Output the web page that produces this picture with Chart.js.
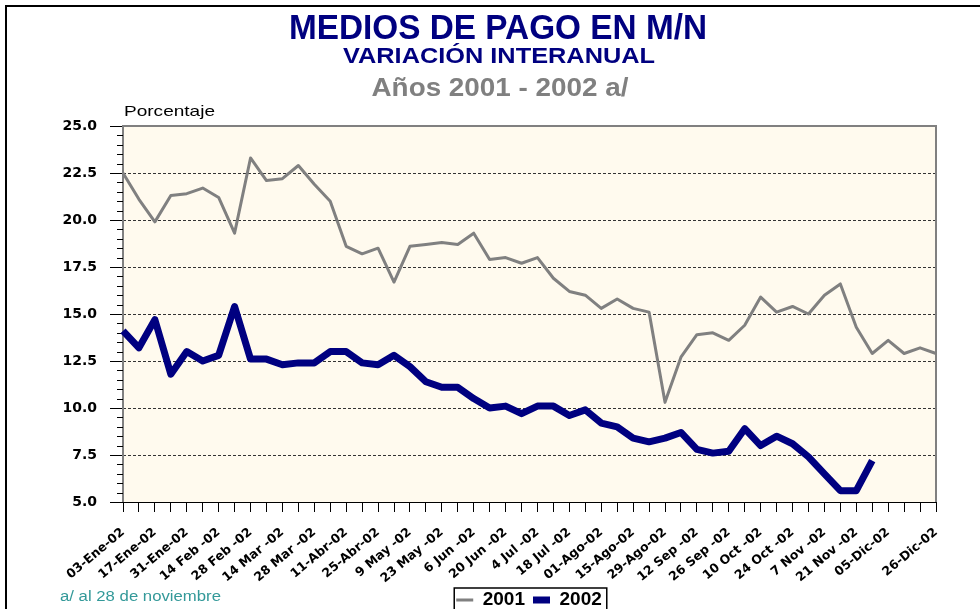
<!DOCTYPE html>
<html>
<head>
<meta charset="utf-8">
<script src="https://cdn.jsdelivr.net/npm/chart.js@4.4.0/dist/chart.umd.min.js"></script>
<style>
html,body{margin:0;padding:0;background:#fff;overflow:hidden}
canvas{display:block}
</style>
</head>
<body>
<canvas id="c" width="980" height="609"></canvas>
<script>
// ---- data ----
const categories = [
  '03-Ene-02','10-Ene-02','17-Ene-02','24-Ene-02','31-Ene-02','07 Feb -02','14 Feb -02','21 Feb -02',
  '28 Feb -02','07 Mar -02','14 Mar -02','21 Mar -02','28 Mar -02','04-Abr-02','11-Abr-02','18-Abr-02',
  '25-Abr-02','2 May -02','9 May -02','16 May -02','23 May -02','30 May -02','6 Jun -02','13 Jun -02',
  '20 Jun -02','27 Jun -02','4 Jul -02','11 Jul -02','18 Jul -02','25 Jul -02','01-Ago-02','08-Ago-02',
  '15-Ago-02','22-Ago-02','29-Ago-02','5 Sep -02','12 Sep -02','19 Sep -02','26 Sep -02','3 Oct -02',
  '10 Oct -02','17 Oct -02','24 Oct -02','31 Oct -02','7 Nov -02','14 Nov -02','21 Nov -02','28 Nov -02',
  '05-Dic-02','12-Dic-02','19-Dic-02','26-Dic-02'
];
const xTickLabels = [
  '03-Ene-02','17-Ene-02','31-Ene-02','14 Feb -02','28 Feb -02','14 Mar -02','28 Mar -02','11-Abr-02',
  '25-Abr-02','9 May -02','23 May -02','6 Jun -02','20 Jun -02','4 Jul -02','18 Jul -02','01-Ago-02',
  '15-Ago-02','29-Ago-02','12 Sep -02','26 Sep -02','10 Oct -02','24 Oct -02','7 Nov -02','21 Nov -02',
  '05-Dic-02','26-Dic-02'
];
const yTickLabels = ['5.0','7.5','10.0','12.5','15.0','17.5','20.0','22.5','25.0'];
const series2001 = [
  22.5,21.1,19.9,21.3,21.4,21.7,21.2,19.3,23.3,22.1,22.2,22.9,21.9,21.0,18.6,18.2,
  18.5,16.7,18.6,18.7,18.8,18.7,19.3,17.9,18.0,17.7,18.0,16.9,16.2,16.0,15.3,15.8,
  15.3,15.1,10.3,12.7,13.9,14.0,13.6,14.4,15.9,15.1,15.4,15.0,16.0,16.6,14.3,12.9,
  13.6,12.9,13.2,12.9
];
const series2002 = [
  14.1,13.2,14.7,11.8,13.0,12.5,12.8,15.4,12.6,12.6,12.3,12.4,12.4,13.0,13.0,12.4,
  12.3,12.8,12.2,11.4,11.1,11.1,10.5,10.0,10.1,9.7,10.1,10.1,9.6,9.9,9.2,9.0,
  8.4,8.2,8.4,8.7,7.8,7.6,7.7,8.9,8.0,8.5,8.1,7.4,6.5,5.6,5.6,7.2,
  null,null,null,null
];
const seriesNames = ['2001','2002'];
const titleLines = ['MEDIOS DE PAGO EN M/N','VARIACIÓN INTERANUAL','Años 2001 - 2002 a/'];
const yAxisTitle = 'Porcentaje';
const footnote = 'a/ al 28 de noviembre';

// ---- helpers ----
function fitText(ctx, text, font, color, x, baseline, width, align) {
  ctx.save();
  ctx.font = font;
  const w = ctx.measureText(text).width;
  ctx.translate(x, baseline);
  ctx.scale(width / w, 1);
  ctx.textAlign = align || 'center';
  ctx.textBaseline = 'alphabetic';
  ctx.fillStyle = color;
  ctx.fillText(text, 0, 0);
  ctx.restore();
}

const LEGEND_CX = 533, LEGEND_CY = 600, LEGEND_H = 40;

const deco = {
  id: 'deco',
  beforeDraw(chart) {
    const {ctx, chartArea: a} = chart;
    ctx.save();
    ctx.fillStyle = '#ffffff';
    ctx.fillRect(0, 0, chart.width, chart.height);
    ctx.fillStyle = '#FFFAEE';
    ctx.fillRect(a.left, a.top, a.right - a.left, a.bottom - a.top);
    ctx.fillStyle = '#000';
    ctx.fillRect(5, 5, chart.width, 2);
    ctx.fillRect(5, 5, 2, chart.height);
    ctx.restore();
  },
  afterLayout(chart) {
    const lg = chart.legend;
    if (!lg) return;
    const pad = lg.options.labels.padding;
    const curCx = (lg.left + lg.right + pad) / 2;
    const dx = LEGEND_CX - curCx;
    const fs = lg.options.labels.font.size;
    lg.left += dx; lg.right += dx;
    lg.top = LEGEND_CY - pad - fs / 2;
    lg.bottom = lg.top + LEGEND_H;
    lg.height = LEGEND_H;
  },
  beforeDatasetsDraw(chart) {
    const {ctx, chartArea: a} = chart;
    const y = chart.scales.y;
    ctx.save();
    ctx.strokeStyle = '#808080';
    ctx.lineWidth = 2;
    ctx.beginPath();
    ctx.moveTo(a.left, a.bottom);
    ctx.lineTo(a.left, a.top);
    ctx.lineTo(a.right, a.top);
    ctx.lineTo(a.right, a.bottom);
    ctx.stroke();
    ctx.strokeStyle = '#000';
    ctx.lineWidth = 1;
    ctx.beginPath();
    for (let v = y.min + 0.5; v < y.max - 1e-6; v += 0.5) {
      if (Math.abs(v / 2.5 - Math.round(v / 2.5)) < 1e-6) continue;
      const p = Math.round(y.getPixelForValue(v)) + 0.5;
      ctx.moveTo(a.left - 6, p);
      ctx.lineTo(a.left, p);
    }
    ctx.stroke();
    ctx.restore();
  },
  afterDraw(chart) {
    const {ctx, chartArea: a} = chart;
    fitText(ctx, titleLines[0], 'bold 35px "Liberation Sans", Arial, sans-serif', '#000080', 498, 39, 418);
    fitText(ctx, titleLines[1], 'bold 22px "Liberation Sans", Arial, sans-serif', '#000080', 499, 63, 312);
    fitText(ctx, titleLines[2], 'bold 26px "Liberation Sans", Arial, sans-serif', '#808080', 500, 96, 257);
    fitText(ctx, yAxisTitle, '15px "Liberation Sans", Arial, sans-serif', '#000', a.left + 1, 116, 91, 'left');
    fitText(ctx, footnote, '14px "Liberation Sans", Arial, sans-serif', '#339999', 60, 601, 161, 'left');
    const lg = chart.legend;
    if (lg && lg.lineWidths) {
      const pad = lg.options.labels.padding;
      const rowW = lg.lineWidths[0];
      const start = (lg.left + pad + lg.right - rowW) / 2;
      ctx.save();
      ctx.strokeStyle = '#000';
      ctx.lineWidth = 1.5;
      ctx.strokeRect(start - 2, 588, rowW - pad + 7, 30);
      ctx.restore();
    }
  }
};

new Chart(document.getElementById('c'), {
  type: 'line',
  data: {
    labels: categories,
    datasets: [
      {label: seriesNames[0], data: series2001, borderColor: '#808080', backgroundColor: '#808080',
       borderWidth: 3, pointRadius: 0, tension: 0, fill: false, borderJoinStyle: 'round'},
      {label: seriesNames[1], data: series2002, borderColor: '#000080', backgroundColor: '#000080',
       borderWidth: 7, pointRadius: 0, tension: 0, fill: false, borderJoinStyle: 'round'}
    ]
  },
  options: {
    responsive: false,
    devicePixelRatio: 1,
    animation: false,
    layout: {padding: {top: 126, right: 44, left: 0, bottom: 0}},
    plugins: {
      title: {display: false},
      tooltip: {enabled: false},
      legend: {
        display: true,
        position: 'bottom',
        maxHeight: 1,
        labels: {
          usePointStyle: true,
          pointStyle: 'line',
          pointStyleWidth: 17,
          padding: 8,
          color: '#000',
          font: {family: '"Liberation Sans", Arial, sans-serif', size: 19, weight: 'bold'}
        }
      }
    },
    scales: {
      x: {
        afterFit(s) {
          const lg = s.chart.legend;
          const lh = lg ? lg.height : 0;
          s.height = s.chart.height - 502 - lh;
        },
        grid: {drawOnChartArea: false, tickLength: 10, tickColor: '#000', color: '#000'},
        border: {display: true, color: '#000', width: 1},
        ticks: {
          autoSkip: false,
          maxRotation: 40,
          minRotation: 40,
          padding: 13,
          color: '#000',
          font: {family: '"DejaVu Sans", Verdana, sans-serif', size: 12.5, weight: 'bold'},
          callback(v, i) { const c = categories[i]; return xTickLabels.includes(c) ? c : ''; }
        }
      },
      y: {
        min: parseFloat(yTickLabels[0]),
        max: parseFloat(yTickLabels[yTickLabels.length - 1]),
        afterFit(s) { s.width = 123; },
        afterBuildTicks(s) { s.ticks = yTickLabels.map(t => ({value: parseFloat(t)})); },
        grid: {
          color(c) {
            const v = c.tick ? c.tick.value : null;
            return (v === 5 || v === 25) ? 'rgba(0,0,0,0)' : '#333333';
          },
          lineWidth: 1,
          tickLength: 13,
          tickColor: '#000'
        },
        border: {display: false, dash: [3, 2]},
        ticks: {
          padding: 13,
          color: '#000',
          font: {family: '"DejaVu Sans", Verdana, sans-serif', size: 14, weight: 'bold'},
          callback(v, i) { return yTickLabels[i]; }
        }
      }
    }
  },
  plugins: [deco]
});
</script>
</body>
</html>
